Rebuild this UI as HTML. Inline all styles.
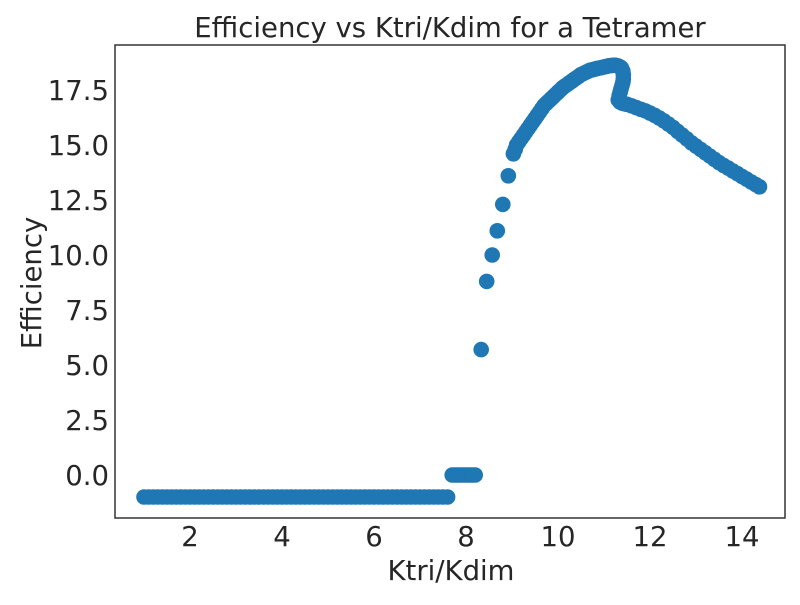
<!DOCTYPE html>
<html><head><meta charset="utf-8"><style>
body{margin:0;background:#fff;}
svg text{font-family:"DejaVu Sans","Liberation Sans",sans-serif;fill:#262626;}
</style></head><body>
<svg id="chart" width="800" height="600" xmlns="http://www.w3.org/2000/svg">
<rect x="0" y="0" width="800" height="600" fill="#fff"/>
<text x="450" y="37" font-size="27.5" text-anchor="middle">Efficiency vs Ktri/Kdim for a Tetramer</text>
<g id="marks"></g>
<g id="ticks"></g>
<rect x="115" y="45" width="670" height="473" fill="none" stroke="#333" stroke-width="1.5"/>
<text x="451" y="580" font-size="27.5" text-anchor="middle">Ktri/Kdim</text>
<text x="0" y="0" font-size="27.5" text-anchor="middle" transform="translate(41,283) rotate(-90)">Efficiency</text>
</svg>
<script>
const xTicks=[2,4,6,8,10,12,14];
const yTicks=[0,2.5,5,7.5,10,12.5,15,17.5];
const flatX=[1.0,1.1,1.2,1.3,1.4,1.5,1.6,1.7,1.8,1.9,2.0,2.1,2.2,2.3,2.4,2.5,2.6,2.7,2.8,2.9,3.0,3.1,3.2,3.3,3.4,3.5,3.6,3.7,3.8,3.9,4.0,4.1,4.2,4.3,4.4,4.5,4.6,4.7,4.8,4.9,5.0,5.1,5.2,5.3,5.4,5.5,5.6,5.7,5.8,5.9,6.0,6.1,6.2,6.3,6.4,6.5,6.6,6.7,6.8,6.9,7.0,7.1,7.2,7.3,7.4,7.5,7.6];
const flatY=[-1,-1,-1,-1,-1,-1,-1,-1,-1,-1,-1,-1,-1,-1,-1,-1,-1,-1,-1,-1,-1,-1,-1,-1,-1,-1,-1,-1,-1,-1,-1,-1,-1,-1,-1,-1,-1,-1,-1,-1,-1,-1,-1,-1,-1,-1,-1,-1,-1,-1,-1,-1,-1,-1,-1,-1,-1,-1,-1,-1,-1,-1,-1,-1,-1,-1,-1];
const zeroX=[7.7,7.75,7.8,7.85,7.9,7.95,8.0,8.05,8.1,8.15,8.2];
const zeroY=[0,0,0,0,0,0,0,0,0,0,0];
const riseX=[8.33,8.45,8.57,8.68,8.8,8.92,9.03,9.07,9.1,9.15,9.2,9.25,9.3,9.35,9.4,9.45,9.5,9.55,9.6,9.65,9.7,9.75,9.8,9.85,9.9,9.95,10.0,10.05,10.1,10.15,10.2,10.25,10.3,10.35,10.4,10.45,10.5,10.55,10.6,10.65,10.7,10.75,10.8,10.85,10.9,10.95,11.0,11.05,11.1,11.15,11.2,11.25,11.3,11.35,11.38,11.41,11.42,11.42,11.41,11.39,11.37,11.35,11.33,11.31,11.35,11.4,11.45,11.5];
const riseY=[5.7,8.8,10.0,11.1,12.3,13.6,14.6,14.8,15.0,15.15,15.3,15.45,15.6,15.75,15.9,16.05,16.2,16.35,16.5,16.65,16.8,16.9,17.0,17.1,17.2,17.3,17.4,17.5,17.6,17.68,17.75,17.83,17.9,17.98,18.05,18.12,18.2,18.25,18.3,18.35,18.4,18.42,18.45,18.48,18.5,18.52,18.55,18.57,18.6,18.61,18.62,18.62,18.6,18.55,18.5,18.35,18.2,18.0,17.85,17.7,17.55,17.4,17.25,17.05,16.95,16.9,16.87,16.85];
const fallX=[11.6,11.7,11.8,11.9,12.0,12.1,12.2,12.3,12.4,12.5,12.6,12.7,12.8,12.9,13.0,13.1,13.2,13.3,13.4,13.5,13.6,13.7,13.8,13.9,14.0,14.1,14.2,14.3,14.38];
const fallY=[16.78,16.7,16.62,16.55,16.45,16.35,16.23,16.1,15.95,15.8,15.62,15.45,15.28,15.1,14.95,14.8,14.65,14.5,14.35,14.2,14.07,13.95,13.82,13.7,13.57,13.45,13.32,13.2,13.1];
const NS='http://www.w3.org/2000/svg';
function sx(v){return 98+46*v;}
function sy(v){return 475-22*v;}
const marks=document.getElementById('marks');
const ticks=document.getElementById('ticks');
function plot(xs,ys){
  for(let i=0;i<xs.length;i++){
    const c=document.createElementNS(NS,'circle');
    c.setAttribute('cx',sx(xs[i]));c.setAttribute('cy',sy(ys[i]));c.setAttribute('r',7.8);c.setAttribute('fill','#1f77b4');
    
    
    marks.appendChild(c);
  }
}
plot(flatX,flatY);plot(zeroX,zeroY);plot(riseX,riseY);plot(fallX,fallY);
xTicks.forEach(v=>{
  const t=document.createElementNS(NS,'text');
  t.setAttribute('x',sx(v));t.setAttribute('y',546);t.setAttribute('font-size','27.5');t.setAttribute('text-anchor','middle');
  t.textContent=String(v);
  
  
  ticks.appendChild(t);
});
yTicks.forEach(v=>{
  const t=document.createElementNS(NS,'text');
  t.setAttribute('x',109);t.setAttribute('y',sy(v)+10);t.setAttribute('font-size','27.5');t.setAttribute('text-anchor','end');
  t.textContent=v.toFixed(1);
  
  
  ticks.appendChild(t);
});
</script>
</body></html>
